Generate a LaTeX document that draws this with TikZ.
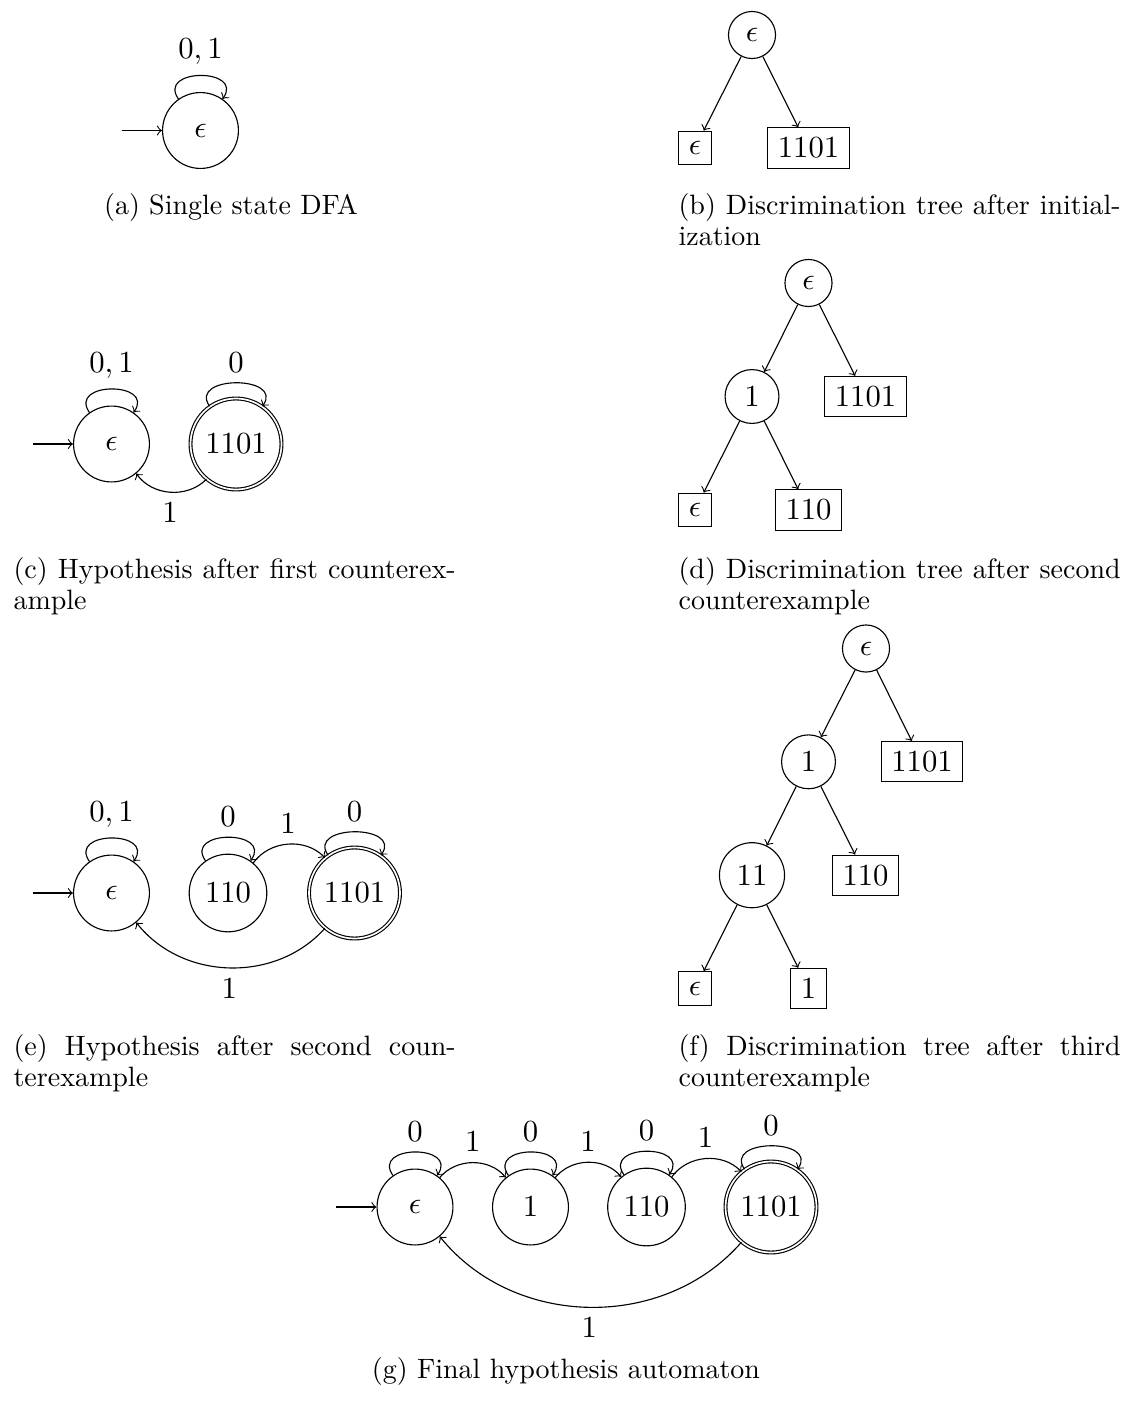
\documentclass[tikz,border=0pt]{standalone}
\begin{document}
\begin{tikzpicture}[x=0.3571pt,y=0.3571pt,
  every node/.style={font=\fontsize{10.95}{13.6}\selectfont,inner sep=3.65pt},
  st/.style={circle,draw,minimum size=27.1pt},
  acc/.style={st,double,double distance=0.6pt},
  tin/.style={circle,draw},
  tleaf/.style={rectangle,draw},
  selfloop/.style={out=125,in=55,looseness=1,min distance=13.6pt},
  arc/.style={bend left=50},
  capl/.style={anchor=base west,inner sep=0pt,font=\fontsize{10}{11}\selectfont},
  capc/.style={anchor=base,inner sep=0pt,font=\fontsize{10}{11}\selectfont}]
\useasboundingbox (0,0) rectangle (1129,-1401);

% (a) single state DFA
\node[st] (a0) at (200.5,-130.5) {$\epsilon$};
\coordinate (a0in) at (121.5,-130.5);
\draw[->] (a0in) -- (a0);
\draw[->] (a0) to[selfloop] node[above] {$0,1$} (a0);
\node[capc] (capa) at (231,-214) {(a) Single state DFA};

% (b) discrimination tree after initialization
\node[tin] (b0) at (752,-35) {$\epsilon$};
\node[tleaf] (b1) at (695,-148) {$\epsilon$};
\node[tleaf] (b2) at (808.5,-148) {$1101$};
\draw[->] (b0) -- (b1);
\draw[->] (b0) -- (b2);
\node[capl] (capb1) at (678,-214) {\makebox[157.9pt][s]{(b) Discrimination tree after initial-}};
\node[capl] (capb2) at (678,-245) {ization};

% (c) hypothesis after first counterexample
\node[st] (c0) at (111.5,-444) {$\epsilon$};
\node[acc] (c1) at (236,-444) {$1101$};
\coordinate (c0in) at (32.5,-444);
\draw[->] (c0in) -- (c0);
\draw[->] (c0) to[selfloop] node[above] {$0,1$} (c0);
\draw[->] (c1) to[selfloop] node[above] {$0$} (c1);
\draw[->] (c1) to[arc] node[below] {$1$} (c0);
\node[capl] (capc1) at (13,-578) {\makebox[157.9pt][s]{(c) Hypothesis after first counterex-}};
\node[capl] (capc2) at (13,-609) {ample};

% (d) discrimination tree after second counterexample
\node[tin] (d0) at (808.5,-283) {$\epsilon$};
\node[tin] (d1) at (752,-396.5) {$1$};
\node[tleaf] (d2) at (865.5,-396.5) {$1101$};
\node[tleaf] (d3) at (695,-510) {$\epsilon$};
\node[tleaf] (d4) at (808.5,-510) {$110$};
\draw[->] (d0) -- (d1);
\draw[->] (d0) -- (d2);
\draw[->] (d1) -- (d3);
\draw[->] (d1) -- (d4);
\node[capl] (capd1) at (678,-578) {\makebox[157.9pt][s]{(d) Discrimination tree after second}};
\node[capl] (capd2) at (678,-609) {counterexample};

% (e) hypothesis after second counterexample
\node[st] (e0) at (111.5,-893) {$\epsilon$};
\node[st] (e1) at (228,-893) {$110$};
\node[acc] (e2) at (354.5,-893) {$1101$};
\coordinate (e0in) at (32.5,-893);
\draw[->] (e0in) -- (e0);
\draw[->] (e0) to[selfloop] node[above] {$0,1$} (e0);
\draw[->] (e1) to[selfloop] node[above] {$0$} (e1);
\draw[->] (e2) to[selfloop] node[above] {$0$} (e2);
\draw[->] (e1) to[arc] node[above] {$1$} (e2);
\draw[->] (e2) to[arc] node[below] {$1$} (e0);
\node[capl] (cape1) at (13,-1055) {\makebox[157.9pt][s]{(e) Hypothesis after second coun-}};
\node[capl] (cape2) at (13,-1086) {terexample};

% (f) discrimination tree after third counterexample
\node[tin] (f0) at (866,-648.5) {$\epsilon$};
\node[tin] (f1) at (808.5,-761.8) {$1$};
\node[tleaf] (f2) at (922,-761.8) {$1101$};
\node[tin] (f3) at (752,-875.2) {$11$};
\node[tleaf] (f4) at (865.5,-875.2) {$110$};
\node[tleaf] (f5) at (695,-988.5) {$\epsilon$};
\node[tleaf] (f6) at (808.5,-988.5) {$1$};
\draw[->] (f0) -- (f1);
\draw[->] (f0) -- (f2);
\draw[->] (f1) -- (f3);
\draw[->] (f1) -- (f4);
\draw[->] (f3) -- (f5);
\draw[->] (f3) -- (f6);
\node[capl] (capf1) at (678,-1055) {\makebox[157.9pt][s]{(f) Discrimination tree after third}};
\node[capl] (capf2) at (678,-1086) {counterexample};

% (g) final hypothesis automaton
\node[st] (g0) at (415,-1207) {$\epsilon$};
\node[st] (g1) at (530.5,-1207) {$1$};
\node[st] (g2) at (646.5,-1207) {$110$};
\node[acc] (g3) at (771,-1207) {$1101$};
\coordinate (g0in) at (336,-1207);
\draw[->] (g0in) -- (g0);
\draw[->] (g0) to[selfloop] node[above] {$0$} (g0);
\draw[->] (g1) to[selfloop] node[above] {$0$} (g1);
\draw[->] (g2) to[selfloop] node[above] {$0$} (g2);
\draw[->] (g3) to[selfloop] node[above] {$0$} (g3);
\draw[->] (g0) to[arc] node[above] {$1$} (g1);
\draw[->] (g1) to[arc] node[above] {$1$} (g2);
\draw[->] (g2) to[arc] node[above] {$1$} (g3);
\draw[->] (g3) to[arc] node[below] {$1$} (g0);
\node[capc] (capg) at (566,-1378) {(g) Final hypothesis automaton};
\end{tikzpicture}
\end{document}
